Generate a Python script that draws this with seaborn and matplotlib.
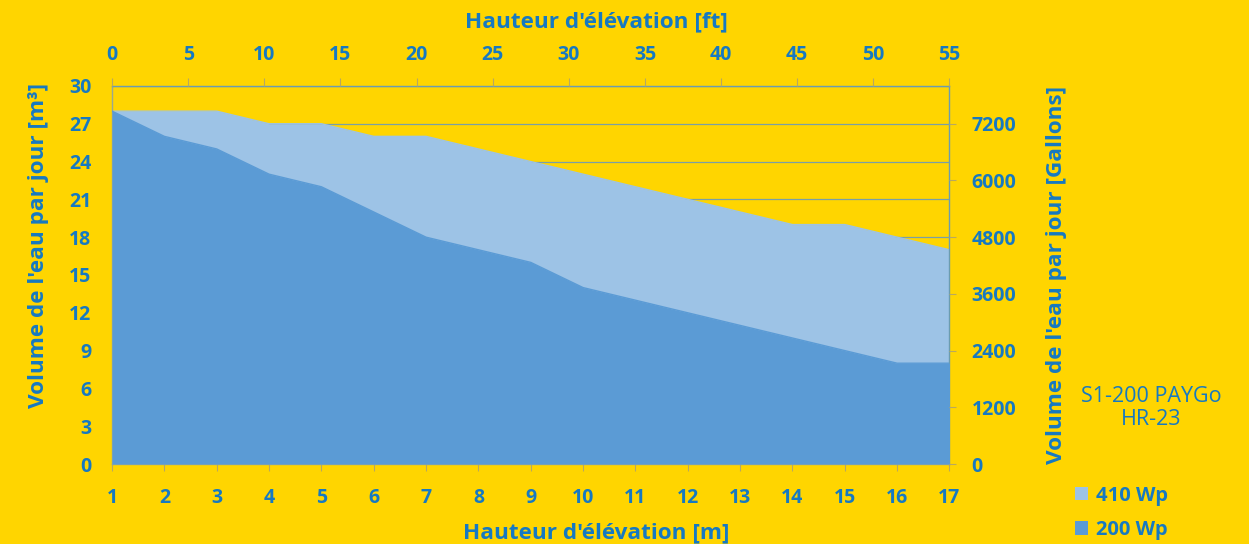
import matplotlib
matplotlib.use("Agg")
import matplotlib.pyplot as plt
import seaborn as sns
import pandas as pd
from matplotlib.patches import Rectangle

hauteur_m = list(range(1, 18))
vol_410 = [28, 28, 28, 27, 27, 26, 26, 25, 24, 23, 22, 21, 20, 19, 19, 18, 17]
vol_200 = [28, 26, 25, 23, 22, 20, 18, 17, 16, 14, 13, 12, 11, 10, 9, 8, 8]
series_labels = ["410 Wp", "200 Wp"]
y_ticks_m3 = [0, 3, 6, 9, 12, 15, 18, 21, 24, 27, 30]
y_ticks_gal = [0, 1200, 2400, 3600, 4800, 6000, 7200]
x_ticks_ft = [0, 5, 10, 15, 20, 25, 30, 35, 40, 45, 50, 55]
product_name = "S1-200 PAYGo\nHR-23"

BG = "#FFD500"
TXT = "#1679C2"
C410 = "#9DC3E6"
C200 = "#5B9BD5"
GRID = "#7A9FA6"

sns.set_theme(style="white")
plt.rcParams["font.family"] = ["Open Sans", "DejaVu Sans"]

df = pd.DataFrame({"m": hauteur_m, "410 Wp": vol_410, "200 Wp": vol_200})

fig = plt.figure(figsize=(12.49, 5.44), dpi=100, facecolor=BG)
ax = fig.add_axes([0.0897, 0.147, 0.6705, 0.695])
ax.set_facecolor(BG)

ax.set_axisbelow(True)
for t in y_ticks_m3[1:]:
    ax.axhline(t, color=GRID, lw=0.9, zorder=0)

ax.fill_between(df["m"], 0, df["410 Wp"], color=C410, lw=0, zorder=2)
sns.lineplot(data=df, x="m", y="410 Wp", ax=ax, color=C410, lw=1, zorder=2)
ax.fill_between(df["m"], 0, df["200 Wp"], color=C200, lw=0, zorder=3)
sns.lineplot(data=df, x="m", y="200 Wp", ax=ax, color=C200, lw=1, zorder=3)

ax.set_xlim(1, 17)
ax.set_ylim(0, 30)
ax.set_xticks(hauteur_m)
ax.set_yticks(y_ticks_m3)
tick_font = dict(fontsize=14, fontweight="bold", color=TXT)
lab_font = dict(fontsize=16.2, fontweight="bold", color=TXT)
ax.set_xticklabels([str(v) for v in hauteur_m], **tick_font)
ax.set_yticklabels([str(v) for v in y_ticks_m3], **tick_font)
ax.tick_params(axis="x", length=5, width=0.8, color="#B8A860", pad=12, bottom=True)
ax.tick_params(axis="y", length=0, pad=15)
ax.set_xlabel("Hauteur d'élévation [m]", labelpad=12, **lab_font)
ax.set_ylabel("Volume de l'eau par jour [m³]", labelpad=13, **lab_font)
ax.xaxis.set_label_coords(0.578, -0.1825)
ax.yaxis.set_label_coords(-0.088, 0.579)

for s in ["left", "bottom"]:
    ax.spines[s].set_color("#9AA890")
    ax.spines[s].set_linewidth(1)
for s in ["top", "right"]:
    ax.spines[s].set_color("#6B9CB0")
    ax.spines[s].set_linewidth(1)

# right axis (gallons)
ax2 = ax.twinx()
ax2.set_ylim(0, 8000)
ax2.set_yticks(y_ticks_gal)
ax2.set_yticklabels([str(v) for v in y_ticks_gal], **tick_font)
ax2.tick_params(axis="y", length=5, width=0.8, color="#B8A860", pad=11)
ax2.set_ylabel("Volume de l'eau par jour [Gallons]", labelpad=21, **lab_font)
for s in ax2.spines.values():
    s.set_visible(False)

# top axis (feet)
ax3 = ax.twiny()
ax3.set_xlim(0, 55)
ax3.set_xticks(x_ticks_ft)
ax3.set_xticklabels([str(v) for v in x_ticks_ft], **tick_font)
ax3.tick_params(axis="x", length=6, width=0.8, color="#B8A860", pad=9)
ax3.set_xlabel("Hauteur d'élévation [ft]", labelpad=10, **lab_font)
ax3.xaxis.set_label_coords(0.578, 1.169)
ax3.xaxis.label.set_va("center")
ax.xaxis.label.set_va("center")
ax.yaxis.label.set_va("center")

fig.text(0.922, 0.25, product_name, ha="center", va="center", fontsize=15.5,
         color=TXT, linespacing=1.15)

handles = [Rectangle((0, 0), 1, 1, facecolor=C410, edgecolor="none"),
           Rectangle((0, 0), 1, 1, facecolor=C200, edgecolor="none")]
leg = fig.legend(handles, series_labels, loc="upper left", bbox_to_anchor=(0.861, 0.107),
                 frameon=False, handlelength=0.65, handleheight=0.65, handletextpad=0.35,
                 labelspacing=0.7, borderaxespad=0, borderpad=0,
                 prop={"size": 14.5, "weight": "bold"})
for t in leg.get_texts():
    t.set_color(TXT)

for s in ax3.spines.values():
    s.set_visible(False)

fig.savefig("out.png", dpi=100, facecolor=BG)
